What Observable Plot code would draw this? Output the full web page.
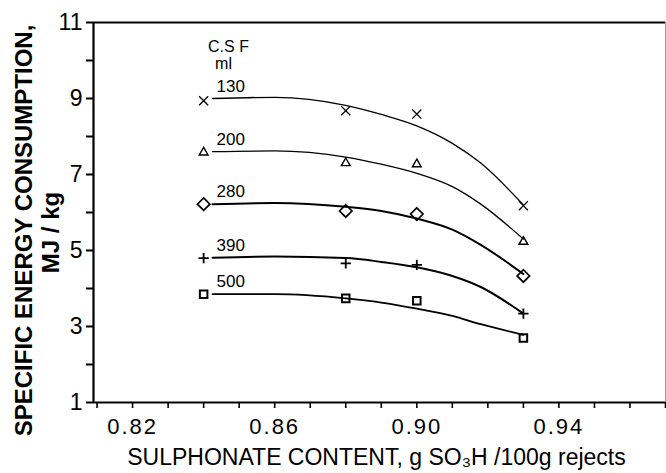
<!DOCTYPE html>
<html>
<head>
<meta charset="utf-8">
<script src="https://cdn.jsdelivr.net/npm/d3@7"></script>
<script src="https://cdn.jsdelivr.net/npm/@observablehq/plot@0.6"></script>
<style>
  html, body { margin: 0; padding: 0; background: #fff; }
</style>
</head>
<body>
<div id="chart"></div>
<script>
// ---- data ----
const xPts = [0.84, 0.88, 0.90, 0.93];            // g SO3H / 100g rejects
const series = ["130", "200", "280", "390", "500"]; // C.S.F. ml
const pts130 = [8.94, 8.68, 8.59, 6.18];
const pts200 = [7.58, 7.30, 7.27, 5.23];
const pts280 = [6.22, 6.04, 5.96, 4.33];
const pts390 = [4.80, 4.66, 4.62, 3.34];
const pts500 = [3.85, 3.74, 3.68, 2.70];

// hand-drawn fitted curves
const curveX = [0.8425, 0.86, 0.88, 0.89, 0.90, 0.91, 0.918, 0.93];
const fit130 = [9.00, 9.03, 8.82, 8.58, 8.28, 7.82, 7.30, 6.20];
const fit200 = [7.60, 7.62, 7.46, 7.27, 7.03, 6.68, 6.22, 5.30];
const fit280 = [6.22, 6.25, 6.15, 6.04, 5.84, 5.55, 5.15, 4.38];
const fit390 = [4.81, 4.84, 4.80, 4.70, 4.56, 4.33, 4.04, 3.34];
const fit500 = [3.85, 3.85, 3.74, 3.63, 3.47, 3.28, 3.06, 2.78];

const xTicks = [0.81, 0.82, 0.83, 0.84, 0.85, 0.86, 0.87, 0.88, 0.89, 0.90, 0.91, 0.92, 0.93, 0.94, 0.95, 0.96, 0.97];
const xTickLabels = ["0.82", "0.86", "0.90", "0.94"];
const yTicks = [1, 2, 3, 4, 5, 6, 7, 8, 9, 10, 11];
const yTickLabels = [1, 3, 5, 7, 9, 11];

const xTitle = "SULPHONATE CONTENT, g SO\u2083H /100g rejects";
const yTitle1 = "SPECIFIC ENERGY CONSUMPTION,";
const yTitle2 = "MJ / kg";
const legendTitle1 = "C.S F";
const legendTitle2 = "ml";

// ---- tables built from the arrays ----
const ptsBySeries = [pts130, pts200, pts280, pts390, pts500];
const fitBySeries = [fit130, fit200, fit280, fit390, fit500];
const points = series.flatMap((s, i) => xPts.map((x, j) => ({series: s, x, y: ptsBySeries[i][j]})));
const curves = series.flatMap((s, i) => curveX.map((x, j) => ({series: s, x, y: fitBySeries[i][j]})));
const labels = series.map((s, i) => ({series: s, x: curveX[0], y: fitBySeries[i][0]}));

const symbolStyle = {
  "130": {symbol: "times", r: 4.2, strokeWidth: 1.3, line: 1.3},
  "200": {symbol: "triangle2", r: 4.2, strokeWidth: 1.4, line: 1.3},
  "280": {symbol: "diamond2", r: 5.6, strokeWidth: 1.7, line: 2},
  "390": {symbol: "plus", r: 3.4, strokeWidth: 1.8, line: 2},
  "500": {symbol: "square2", r: 4.8, strokeWidth: 2, line: 1.8}
};

const marks = [
  Plot.ruleY([11], {stroke: "#000", strokeWidth: 2}),
  Plot.ruleX([0.97], {stroke: "#999", strokeWidth: 1}),
  Plot.axisX({
    ticks: xTicks, tickSize: 6, tickPadding: 10, strokeWidth: 1.6,
    tickFormat: d => { const t = d.toFixed(2); return xTickLabels.includes(t) ? t : ""; },
    fontSize: 22, label: null
  }),
  Plot.axisY({
    ticks: yTicks, tickSize: 7, tickPadding: 4, strokeWidth: 2,
    tickFormat: d => yTickLabels.includes(d) ? String(d) : "",
    fontSize: 23, label: null
  }),
  Plot.ruleX([0.809], {stroke: "#000", strokeWidth: 2.2}),
  Plot.ruleY([1], {stroke: "#000", strokeWidth: 2.2})
];

series.forEach(s => {
  const st = symbolStyle[s];
  marks.push(Plot.line(curves.filter(d => d.series === s), {
    x: "x", y: "y", curve: "monotone-x", stroke: "#000", strokeWidth: st.line
  }));
  marks.push(Plot.dot(points.filter(d => d.series === s), {
    x: "x", y: "y", symbol: st.symbol, r: st.r, stroke: "#000", strokeWidth: st.strokeWidth, fill: "none"
  }));
});

marks.push(
  Plot.text(labels, {x: "x", y: "y", text: "series", textAnchor: "start", lineAnchor: "bottom",
    dx: 4, dy: -7, fontSize: 17, fill: "#000"}),
  Plot.text([legendTitle1], {frameAnchor: "top-left", text: d => d, textAnchor: "middle",
    lineAnchor: "bottom", dx: 135, dy: 29, fontSize: 16, fill: "#000"}),
  Plot.text([legendTitle2], {frameAnchor: "top-left", text: d => d, textAnchor: "middle",
    lineAnchor: "bottom", dx: 130, dy: 46, fontSize: 16, fill: "#000"}),
  Plot.text([xTitle], {frameAnchor: "bottom", text: d => d, textAnchor: "middle", lineAnchor: "middle",
    dx: -3, dy: 55, fontSize: 23, fill: "#000", ariaLabel: "x-title"}),
  Plot.text([yTitle1], {frameAnchor: "left", text: d => d, textAnchor: "middle", lineAnchor: "middle",
    rotate: -90, dx: -69, dy: 18, fontSize: 24, fontWeight: "bold", fill: "#000", ariaLabel: "y-title1"}),
  Plot.text([yTitle2], {frameAnchor: "left", text: d => d, textAnchor: "middle", lineAnchor: "middle",
    rotate: -90, dx: -42, dy: 20, fontSize: 24, fontWeight: "bold", fill: "#000", ariaLabel: "y-title2"})
);

const chart = Plot.plot({
  width: 666,
  height: 473,
  marginTop: 22,
  marginRight: 1,
  marginBottom: 71,
  marginLeft: 93,
  style: {background: "#fff", color: "#000", fontFamily: "Liberation Sans, Arial, sans-serif"},
  x: {domain: [0.809, 0.97], label: null},
  y: {domain: [1, 11], label: null},
  marks
});

document.getElementById("chart").appendChild(chart);

// fine typographic fitting
const svg = d3.select(chart);
svg.selectAll('g[aria-label="x-title"] text').attr("textLength", 520).attr("lengthAdjust", "spacingAndGlyphs");
svg.selectAll('g[aria-label="y-title1"] text').attr("textLength", 396).attr("lengthAdjust", "spacingAndGlyphs");
svg.selectAll('g[aria-label="y-title2"] text').attr("textLength", 72).attr("lengthAdjust", "spacingAndGlyphs");
svg.selectAll('g[aria-label="x-axis tick label"] text').attr("letter-spacing", "2");
</script>
</body>
</html>
